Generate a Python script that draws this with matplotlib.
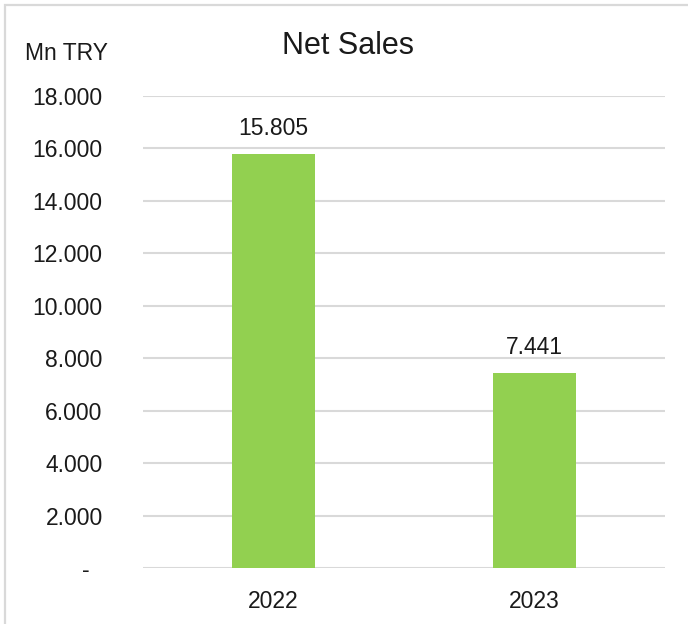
import matplotlib.pyplot as plt
from matplotlib.patches import Rectangle

# Data
years = ['2022', '2023']
net_sales = [15805, 7441]  # Mn TRY
y_ticks = [0, 2000, 4000, 6000, 8000, 10000, 12000, 14000, 16000, 18000]
y_tick_labels = ['-  ', '2.000', '4.000', '6.000', '8.000', '10.000',
                 '12.000', '14.000', '16.000', '18.000']

plt.rcParams['font.family'] = ['Liberation Sans', 'DejaVu Sans']
text_color = '#1a1a1a'

fig = plt.figure(figsize=(6.88, 6.24), dpi=100)
ax = fig.add_axes([143 / 688, 1 - 568 / 624, (665 - 143) / 688, (568 - 96) / 624])

x = range(len(years))
bars = ax.bar(x, net_sales, width=0.315, color='#92D050', zorder=3)
for b, v in zip(bars, net_sales):
    ax.text(b.get_x() + b.get_width() / 2, v + 520, f'{v:,}'.replace(',', '.'),
            ha='center', va='bottom', fontsize=16.5, color=text_color)

ax.set_xlim(-0.5, 1.5)
ax.set_ylim(0, 18000)
ax.set_xticks(list(x))
ax.set_xticklabels(years)
ax.set_yticks(y_ticks)
ax.set_yticklabels(y_tick_labels)
ax.tick_params(axis='y', length=0, pad=29, labelsize=16.5, labelcolor=text_color)
ax.tick_params(axis='x', length=0, pad=16, labelsize=16.5, labelcolor=text_color)
ax.grid(axis='y', color='#D9D9D9', linewidth=1.5, zorder=0)
for s in ax.spines.values():
    s.set_visible(False)

# titles
fig.text(348 / 688, 1 - 46 / 624, 'Net Sales', ha='center', va='center',
         fontsize=22, color=text_color)
fig.text(25 / 688, 1 - 53 / 624, 'Mn TRY', ha='left', va='center',
         fontsize=16.5, color=text_color)

# chart border (cut off at right and bottom)
fig.patches.append(Rectangle((4.5 / 688, -0.1), 1.2, 1 - 5 / 624 + 0.1,
                             transform=fig.transFigure, fill=False,
                             edgecolor='#D9D9D9', linewidth=1.6))

fig.savefig('out.png', dpi=100)
